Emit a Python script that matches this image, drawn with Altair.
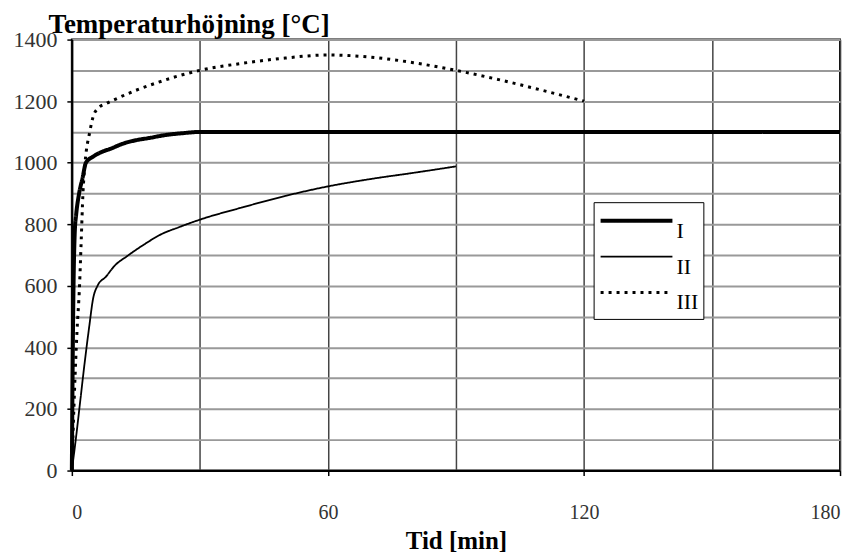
import altair as alt
import pandas as pd

# Curve I
t_I = [0, 0.3, 0.7, 1, 1.7, 2.5, 3.3, 5, 7, 9, 12, 15, 18, 22, 26, 30, 180]
T_I = [0, 500, 780, 830, 900, 950, 1000, 1020, 1035, 1045, 1062, 1073, 1080, 1090, 1096, 1100, 1100]

# Curve II
t_II = [0, 1, 2, 3, 4, 5, 6, 8, 10, 13, 17, 21, 25, 30, 40, 50, 60, 70, 80, 90]
T_II = [0, 110, 230, 350, 460, 560, 600, 630, 665, 697, 735, 768, 790, 815, 855, 892, 923, 947, 967, 988]

# Curve III
t_III = [0, 0.6, 1.2, 1.8, 2.2, 2.6, 3.1, 4.2, 5, 6, 8, 10, 15, 20, 25, 30, 40, 50, 60, 70, 80, 90, 100, 110, 120]
T_III = [0, 250, 450, 600, 750, 900, 1000, 1100, 1150, 1175, 1192, 1205, 1235, 1260, 1282, 1300, 1323, 1340, 1350, 1343, 1325, 1300, 1270, 1236, 1200]

series = ["I", "II", "III"]

rows = []
for name, ts, vs in [("I", t_I, T_I), ("II", t_II, T_II), ("III", t_III, T_III)]:
    for t, v in zip(ts, vs):
        rows.append({"Tid": t, "Temp": v, "Kurva": name})
df = pd.DataFrame(rows)

FONT = "Liberation Serif"

x_axis = alt.Axis(
    values=list(range(0, 181, 30)),
    format="d",
    labelExpr="datum.value % 60 == 0 ? datum.label : ''",
    tickOpacity={"condition": {"test": "datum.value % 60 === 0", "value": 1}, "value": 0},
    grid=True, gridColor="#444444", gridWidth=1.5,
    domainColor="black", domainWidth=2,
    tickColor="black", tickSize=5, tickWidth=1.5,
    labelFont=FONT, labelFontSize=20, labelColor="#333333", labelPadding=27,
    title="Tid [min]", titleFont=FONT, titleFontSize=25, titleFontWeight="bold",
    titleColor="black", titlePadding=6,
)

y_axis = alt.Axis(
    values=list(range(0, 1401, 100)),
    format="d",
    labelExpr="datum.value % 200 == 0 ? datum.label : ''",
    tickOpacity={"condition": {"test": "datum.value % 200 === 0", "value": 1}, "value": 0},
    grid=True, gridColor="#999999", gridWidth=2,
    domainColor="black", domainWidth=2,
    tickColor="black", tickSize=5, tickWidth=1.5,
    labelFont=FONT, labelFontSize=22, labelColor="#333333", labelPadding=10,
    title="Temperaturhöjning [°C]", titleFont=FONT, titleFontSize=27, titleFontWeight="bold",
    titleColor="black", titleAngle=0, titleAlign="left", titleBaseline="alphabetic",
    titleX=-24, titleY=-7,
)

chart = alt.Chart(df).mark_line(interpolate="monotone", color="black").encode(
    x=alt.X("Tid:Q", scale=alt.Scale(domain=[0, 180], nice=False, zero=False), axis=x_axis),
    y=alt.Y("Temp:Q", scale=alt.Scale(domain=[0, 1400], nice=False), axis=y_axis),
    strokeDash=alt.StrokeDash(
        "Kurva:N",
        scale=alt.Scale(domain=series, range=[[1, 0], [1, 0], [3, 5]]),
        legend=alt.Legend(title=None),
    ),
    strokeWidth=alt.StrokeWidth(
        "Kurva:N",
        scale=alt.Scale(type="ordinal", domain=series, range=[4, 1.8, 3]),
        legend=alt.Legend(title=None),
    ),
    detail="Kurva:N",
).properties(
    width=770, height=432,
    padding={"left": 5, "top": 2, "right": 5, "bottom": 0},
).configure_view(
    stroke="black", strokeWidth=2,
).configure_legend(
    orient="none", legendX=523, legendY=163,
    strokeColor="black", fillColor="white", padding=5,
    symbolType="stroke", symbolSize=5184, symbolStrokeColor="black",
    labelFont=FONT, labelFontSize=22, labelColor="black",
    labelBaseline="top", labelOffset=2, rowPadding=1, clipHeight=27,
)

chart.save("out.html", embed_options={"renderer": "svg", "actions": False})
